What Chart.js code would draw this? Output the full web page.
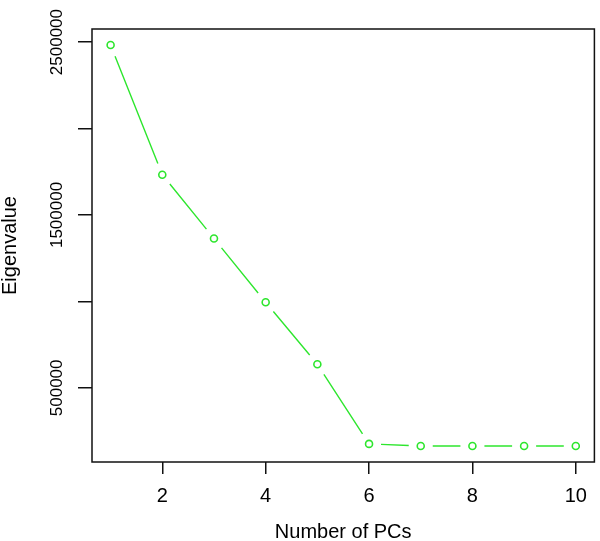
<!DOCTYPE html>
<html>
<head>
<meta charset="utf-8">
<script src="https://cdn.jsdelivr.net/npm/chart.js@4/dist/chart.umd.min.js"></script>
<style>
    body { margin: 0; background: #fff; }
    #wrap { width: 600px; height: 541px; position: relative; }
</style>
</head>
<body>
<div id="wrap"><canvas id="screeChart"></canvas></div>
<script>
// scree plot data
var pcs = [1, 2, 3, 4, 5, 6, 7, 8, 9, 10];
var eigenvalues = [2483000, 1733000, 1364000, 995000, 637000, 176000, 164000, 164000, 164000, 164000];

var xTickValues = [2, 4, 6, 8, 10];
var yTickValues = [500000, 1000000, 1500000, 2000000, 2500000];
var yTickLabels = ['500000', '', '1500000', '', '2500000'];

var lineGreen = '#2ee62e';
var fontFamily = 'Arial, "Liberation Sans", sans-serif';
var pointGap = 12; // R type = "b": line stops short of each point

var points = pcs.map((x, i) => ({ x: x, y: eigenvalues[i] }));

// R style axis range: data range padded by 4% each side
var yMinData = Math.min(...eigenvalues);
var yMaxData = Math.max(...eigenvalues);
var yPad = (yMaxData - yMinData) * 0.04;
var xPad = (pcs[pcs.length - 1] - pcs[0]) * 0.04;

// dash pattern for one segment: off gap, on middle part, off gap
function gapDash(ctx) {
    const dx = ctx.p1.x - ctx.p0.x;
    const dy = ctx.p1.y - ctx.p0.y;
    const len = Math.sqrt(dx * dx + dy * dy);
    const mid = Math.max(len - 2 * pointGap, 0);
    return [0.001, pointGap, mid, len - pointGap - mid];
}

// box around plot area + rotated y tick labels
var rPlotPlugin = {
    id: 'rPlot',
    afterDraw(chart) {
        const ctx = chart.ctx;
        const area = chart.chartArea;
        ctx.save();
        ctx.strokeStyle = '#111';
        ctx.lineWidth = 1.5;
        ctx.strokeRect(area.left, area.top, area.right - area.left, area.bottom - area.top);

        const yScale = chart.scales.y;
        ctx.fillStyle = '#000';
        ctx.font = '17px ' + fontFamily;
        ctx.textAlign = 'center';
        ctx.textBaseline = 'middle';
        yTickValues.forEach((v, i) => {
            if (!yTickLabels[i]) return;
            const py = yScale.getPixelForValue(v);
            ctx.save();
            ctx.translate(57, py);
            ctx.rotate(-Math.PI / 2);
            ctx.fillText(yTickLabels[i], 0, 0);
            ctx.restore();
        });
        ctx.restore();
    }
};

const ctx = document.getElementById('screeChart').getContext('2d');
new Chart(ctx, {
    type: 'line',
    data: {
        datasets: [{
            data: points,
            borderColor: lineGreen,
            borderWidth: 1.4,
            borderCapStyle: 'butt',
            tension: 0,
            segment: { borderDash: gapDash },
            pointRadius: 3.5,
            pointBackgroundColor: '#fff',
            pointBorderColor: lineGreen,
            pointBorderWidth: 1.6
        }]
    },
    options: {
        responsive: true,
        maintainAspectRatio: false,
        animation: false,
        layout: { padding: { top: 29, right: 2, left: 0, bottom: 0 } },
        plugins: {
            legend: { display: false },
            tooltip: { enabled: false }
        },
        scales: {
            x: {
                type: 'linear',
                min: pcs[0] - xPad,
                max: pcs[pcs.length - 1] + xPad,
                afterBuildTicks: scale => { scale.ticks = xTickValues.map(v => ({ value: v })); },
                afterFit: scale => { scale.height = 79; },
                border: { display: false },
                grid: {
                    drawOnChartArea: false,
                    drawTicks: true,
                    tickLength: 12,
                    color: '#111',
                    lineWidth: 1.5
                },
                ticks: {
                    color: '#000',
                    padding: 10,
                    maxRotation: 0,
                    font: { family: fontFamily, size: 20 }
                },
                title: {
                    display: true,
                    text: 'Number of PCs',
                    color: '#000',
                    padding: 0,
                    font: { family: fontFamily, size: 20, lineHeight: 0.9 }
                }
            },
            y: {
                type: 'linear',
                min: yMinData - yPad,
                max: yMaxData + yPad,
                afterBuildTicks: scale => { scale.ticks = yTickValues.map(v => ({ value: v })); },
                afterFit: scale => { scale.width = 92; },
                border: { display: false },
                grid: {
                    drawOnChartArea: false,
                    drawTicks: true,
                    tickLength: 14,
                    color: '#111',
                    lineWidth: 1.5
                },
                ticks: { display: false },
                title: {
                    display: true,
                    text: 'Eigenvalue',
                    color: '#000',
                    padding: 0,
                    font: { family: fontFamily, size: 20, lineHeight: 1 }
                }
            }
        }
    },
    plugins: [rPlotPlugin]
});
</script>
</body>
</html>
